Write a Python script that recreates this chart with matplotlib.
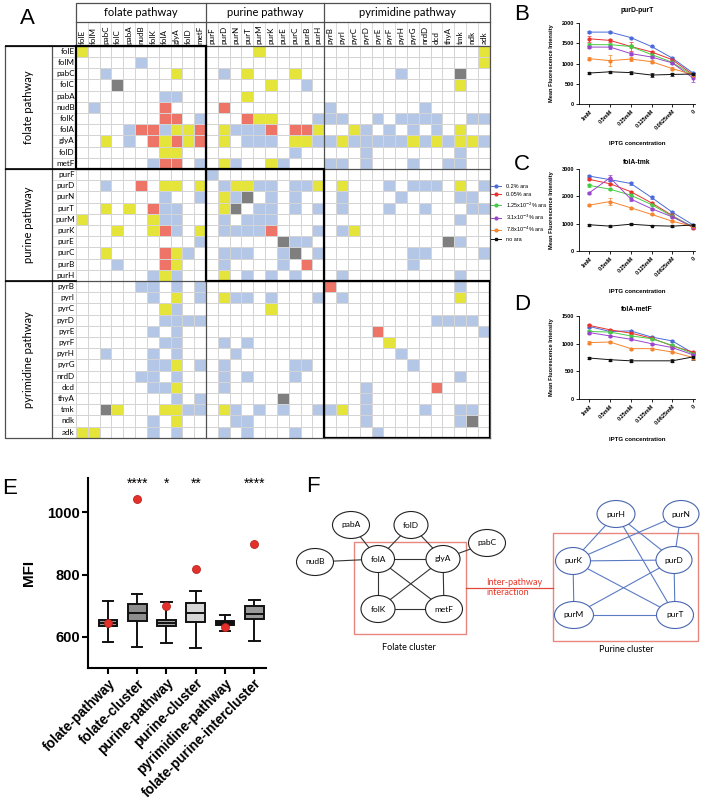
import numpy as np
import matplotlib
matplotlib.use('Agg')
import matplotlib.pyplot as plt
from matplotlib.colors import ListedColormap
from matplotlib.patches import Ellipse, Rectangle
from matplotlib.lines import Line2D

plt.rcParams['font.family'] = ['Liberation Sans', 'DejaVu Sans']

W, H = 705, 808

# ---------------- A: pairwise interaction matrix ----------------
genes = ['folE', 'folM', 'pabC', 'folC', 'pabA', 'nudB', 'folK', 'folA', 'glyA', 'folD', 'metF',
         'purF', 'purD', 'purN', 'purT', 'purM', 'purK', 'purE', 'purC', 'purB', 'purH',
         'pyrB', 'pyrI', 'pyrC', 'pyrD', 'pyrE', 'pyrF', 'pyrH', 'pyrG', 'nrdD', 'dcd', 'thyA',
         'tmk', 'ndk', 'adk']
pathways = ['folate pathway', 'purine pathway', 'pyrimidine pathway']
pathway_sizes = [11, 10, 14]
# . = none, b = blue, y = yellow, r = red, g = grey
matrix_rows = [
    "y.......... ....y..... .............y",
    ".....b..... .......... .............y",
    "..b.....y.. .b.y...y.. ......b....g..",
    "...g....... .....y..b. ...........y..",
    ".......bb.. ...y...... ..............",
    ".b.....r... .r........ b.......b.....",
    ".......rr.b ...ryy...b bb..b.bbbb..bb",
    "....brrbyyr .ybbbr.rry ..yb.b.b.b.y..",
    "..y.b.ryryr .y.bbb.yyb bybbbbbybybyyb",
    ".......yy.. .......b.. ...b.......b..",
    "......brr.b .yb..yb... bb.b...b..bb..",
    "........... b......... ..............",
    "..b..r.yy.y .byybb.bby .y...b.bbb.y.b",
    ".......b..b .ybg.b.b.. .b....b....bb.",
    "..y.y.rbb.. .yg.bb.b.b .b...b..b...bb",
    "y.....ybb.. .b.bbb.... ...........b..",
    "...y..yrb.y .bbbbr...b .by...........",
    "..........b ......gbb. ..........gb..",
    "..y....ryb. .bbb..bg.b .......bb....b",
    "...b...ry.. .b....b.r. .......b......",
    "......byb.. .y.b.b.b.. .b.........b..",
    ".....bb.b.b .......... r..........b..",
    "......b.y.b .ybb.b...b .b.........y..",
    ".......yb.. .....y.... ..............",
    ".......bbbb .......... .........bbbb.",
    "......b.b.. .......... ....r........b",
    ".......bb.. .b.b...... .....y........",
    "..b...b.b.. ..b....... ......b.......",
    "......bby.b .b.....bb. .......b......",
    ".....bb.b.. .b.b...b.. ...........b..",
    "......bby.. .b........ ...b.....r....",
    "........b.b ......g... ...b..........",
    "..gy...yybb .yb.b.b..b by.b....b..bb.",
    "......b.y.. ..bb...... ...b.......bg.",
    "yy....b.b.. .b.b...b.. ....b.........",
]
cell_colors = ['white', '#b4c7e7', '#e4e43a', '#ee7467', '#7f7f7f']

# ---------------- B-D: titration curves ----------------
iptg = ['1mM', '0.5mM', '0.25mM', '0.125mM', '0.0625mM', '0']
ara = ['0.2% ara', '0.05% ara', '1.25x10$^{-2}$% ara', '3.1x10$^{-3}$% ara',
       '7.8x10$^{-4}$% ara', 'no ara']
ara_colors = ['#4a6cd9', '#e8322d', '#45cc45', '#9a45cc', '#f5842c', '#111111']

purD_purT = [[1775, 1775, 1640, 1420, 1135, 765],
             [1610, 1570, 1420, 1285, 1095, 725],
             [1465, 1465, 1420, 1220, 1030, 700],
             [1405, 1405, 1245, 1160, 1015, 645],
             [1120, 1070, 1110, 1045, 875, 725],
             [765, 795, 775, 715, 730, 740]]
purD_purT_err = [[30, 20, 20, 20, 20, 30],
                 [70, 30, 100, 30, 30, 40],
                 [30, 30, 30, 30, 30, 40],
                 [30, 40, 40, 30, 30, 110],
                 [30, 130, 40, 30, 30, 40],
                 [20, 20, 40, 60, 30, 30]]
folA_tmk = [[2740, 2610, 2470, 1960, 1420, 960],
            [2620, 2460, 2170, 1760, 1300, 850],
            [2400, 2260, 2040, 1700, 1270, 900],
            [2130, 2680, 1900, 1550, 1250, 880],
            [1680, 1810, 1580, 1340, 1090, 900],
            [960, 910, 980, 930, 910, 950]]
folA_tmk_err = [[40, 60, 40, 40, 40, 30],
                [40, 40, 40, 40, 30, 30],
                [50, 40, 40, 30, 30, 30],
                [40, 110, 60, 40, 30, 30],
                [40, 140, 30, 30, 30, 30],
                [30, 40, 30, 30, 30, 30]]
folA_metF = [[1310, 1220, 1230, 1120, 1050, 830],
             [1330, 1250, 1190, 1100, 960, 850],
             [1220, 1210, 1140, 1090, 970, 820],
             [1200, 1140, 1080, 1000, 930, 800],
             [1020, 1030, 910, 910, 850, 750],
             [740, 710, 690, np.nan, 690, 760]]
folA_metF_err = [[20, 20, 20, 20, 20, 20],
                 [20, 20, 20, 20, 20, 20],
                 [20, 20, 20, 20, 20, 20],
                 [20, 20, 20, 20, 20, 20],
                 [20, 20, 20, 20, 20, 30],
                 [20, 20, 30, 0, 30, 50]]

# ---------------- E: MFI box plot ----------------
groups_E = ['folate-pathway', 'folate-cluster', 'purine-pathway', 'purine-cluster',
            'pyrimidine-pathway', 'folate-purine-intercluster']
whislo = [584, 567, 581, 563, 620, 586]
q1 = [634, 650, 634, 647, 639, 658]
med = [645, 677, 645, 677, 645, 674]
q3 = [655, 707, 655, 709, 650, 698]
whishi = [714, 738, 712, 748, 669, 717]
highlight = [643, 1042, 699, 818, 631, 898]
stars = ['', '****', '*', '**', '', '****']
box_fill = ['#9a9a9a', '#8e8e8e', '#a5a5a5', '#d6d6d6', '#2a2a2a', '#9a9a9a']

# ---------------- F: cluster networks ----------------
fol_nodes = ['pabA', 'folD', 'pabC', 'nudB', 'folA', 'glyA', 'folK', 'metF']
fol_x = [351, 411, 487, 315, 378, 443, 378, 444]
fol_y = [525, 525, 543, 562, 559, 559, 609, 609]
fol_w = [37, 34, 37, 37, 33, 34, 34, 37]
fol_edges = [('pabA', 'folA'), ('folD', 'folA'), ('folD', 'glyA'), ('pabC', 'glyA'),
             ('nudB', 'folA'), ('folA', 'glyA'), ('folA', 'folK'), ('folA', 'metF'),
             ('glyA', 'folK'), ('glyA', 'metF'), ('folK', 'metF')]
pur_nodes = ['purH', 'purN', 'purK', 'purD', 'purM', 'purT']
pur_x = [616, 681, 573, 674, 574, 675]
pur_y = [514, 514, 561, 560, 615, 615]
pur_w = [38, 36, 35, 36, 39, 37]
pur_edges = [('purH', 'purK'), ('purH', 'purD'), ('purH', 'purT'), ('purN', 'purK'),
             ('purN', 'purD'), ('purK', 'purD'), ('purK', 'purM'), ('purK', 'purT'),
             ('purD', 'purM'), ('purD', 'purT'), ('purM', 'purT')]


fig = plt.figure(figsize=(W / 100, H / 100), dpi=100)


def px_axes(x0, y0, x1, y1):
    return fig.add_axes([x0 / W, 1 - y1 / H, (x1 - x0) / W, (y1 - y0) / H])


def px_text(x, y, s, **kw):
    fig.text(x / W, 1 - y / H, s, **kw)


# ---- A ----
axA = px_axes(5.1, 3.0, 489.7, 437.8)
n = len(genes)
codes = np.array([['.byrg'.index(ch) for ch in row.replace(' ', '')] for row in matrix_rows])
axA.pcolormesh(np.arange(n + 1), np.arange(n + 1), codes, cmap=ListedColormap(cell_colors),
               vmin=-0.5, vmax=4.5, edgecolors='#d4d4d4', linewidth=0.6)
axA.set_xlim(-6, n)
axA.set_ylim(n, -3.82)
axA.axis('off')
grid_c = '#d4d4d4'
for k in range(n + 1):
    axA.plot([k, k], [-2.13, 0], color=grid_c, lw=0.6)
    axA.plot([-2.03, 0], [k, k], color=grid_c, lw=0.6)
for k, g in enumerate(genes):
    axA.text(k + 0.5, -0.12, g, rotation=90, ha='center', va='bottom', fontsize=5.8, family='Lato')
    axA.text(-0.12, k + 0.5, g, ha='right', va='center', fontsize=5.8, family='Lato')

bounds = np.cumsum([0] + pathway_sizes)
dark = '#505050'
kw = dict(color=dark, lw=0.9, clip_on=False)
for b in bounds[1:-1]:
    axA.plot([b, b], [-3.82, n], **kw)
    axA.plot([-6, n], [b, b], **kw)
axA.plot([-6, n], [0, 0], **kw)
axA.plot([-6, -6, n], [0, n, n], **kw)
axA.plot([0, 0, n, n], [0, -3.82, -3.82, n], **kw)
axA.plot([0, n], [-2.13, -2.13], **kw)
axA.plot([-2.03, -2.03], [0, n], **kw)
for s, e, name in zip(bounds[:-1], bounds[1:], pathways):
    axA.add_patch(Rectangle((s, s), e - s, e - s, fill=False, ec='black', lw=1.6, zorder=5))
    axA.plot([-6, 0], [s, s], color='black', lw=1.2)
    axA.text((s + e) / 2, -2.98, name, ha='center', va='center', fontsize=8, family='Lato')
    axA.text(-4.0, (s + e) / 2, name, rotation=90, ha='center', va='center', fontsize=8, family='Lato')

# ---- B, C, D ----
def curve_panel(box, values, errors, ymax, ystep, title, title_y):
    ax = px_axes(*box)
    x = np.arange(len(iptg))
    for vals, errs, col in zip(values, errors, ara_colors):
        vals = np.asarray(vals, float)
        errs = np.asarray(errs, float)
        ok = ~np.isnan(vals)
        mk = 's' if col == '#111111' else 'o'
        ax.errorbar(x[ok], vals[ok], yerr=errs[ok], color=col, marker=mk, ms=2.0, lw=0.7,
                    elinewidth=0.5, capsize=1.2, capthick=0.5)
    ax.set_xlim(-0.5, 5.1)
    ax.set_ylim(0, ymax)
    ax.set_yticks(np.arange(0, ymax + 1, ystep))
    ax.set_xticks(x)
    ax.set_xticklabels(iptg, rotation=45, ha='right', rotation_mode='anchor')
    for sp in ['top', 'right']:
        ax.spines[sp].set_visible(False)
    for sp in ['left', 'bottom']:
        ax.spines[sp].set_linewidth(0.6)
    ax.tick_params(labelsize=4, width=0.6, length=2, pad=1.5)
    for lab in ax.get_xticklabels() + ax.get_yticklabels():
        lab.set_fontweight('bold')
    ax.set_xlabel('IPTG concentration', fontsize=4.4, fontweight='bold')
    ax.xaxis.set_label_coords(0.5, -0.46)
    ax.set_ylabel('Mean Fluorescence Intensity', fontsize=4.1, fontweight='bold')
    ax.yaxis.set_label_coords(-0.215, 0.5)
    ax.text(0.5, title_y, title, transform=ax.transAxes, ha='center', va='center',
            fontsize=4.9, fontweight='bold')
    return ax


curve_panel((579, 23, 695, 104), purD_purT, purD_purT_err, 2000, 500, 'purD-purT', 1.16)
curve_panel((579, 169, 695, 251), folA_tmk, folA_tmk_err, 3000, 1000, 'folA-tmk', 1.08)
curve_panel((579, 316, 695, 399), folA_metF, folA_metF_err, 1500, 500, 'folA-metF', 1.08)

handles = [Line2D([], [], color=c, marker='s' if c == '#111111' else 'o', ms=2.0, lw=0.7)
           for c in ara_colors]
fig.legend(handles, ara, loc='upper left', bbox_to_anchor=(490 / W, 1 - 183 / H), frameon=False,
           fontsize=4, handlelength=1.8, handletextpad=0.8, labelspacing=0.55,
           borderaxespad=0, borderpad=0.2)

# ---- E ----
axE = px_axes(88, 478, 266, 668)
stats = [dict(label=g, whislo=a, q1=b, med=c, q3=d, whishi=e)
         for g, a, b, c, d, e in zip(groups_E, whislo, q1, med, q3, whishi)]
pos = np.arange(len(groups_E))
bp = axE.bxp(stats, positions=pos, widths=0.64, capwidths=0.36, patch_artist=True,
             showfliers=False,
             boxprops=dict(lw=1.4, edgecolor='#111111'),
             medianprops=dict(color='#111111', lw=1.4),
             whiskerprops=dict(color='#111111', lw=1.4),
             capprops=dict(color='#111111', lw=1.4))
for patch, c in zip(bp['boxes'], box_fill):
    patch.set_facecolor(c)
axE.scatter(pos, highlight, s=34, color='#e3302b', edgecolor='#b01e1a', lw=0.5, zorder=5)
for p, s in zip(pos, stars):
    if s:
        axE.text(p, 1093, s, ha='center', va='center', fontsize=10, clip_on=False)
axE.set_xlim(-0.68, 5.4)
axE.set_ylim(500, 1110)
axE.set_yticks([600, 800, 1000])
axE.set_xticks(pos)
axE.set_xticklabels(groups_E, rotation=45, ha='right', rotation_mode='anchor')
for sp in ['top', 'right']:
    axE.spines[sp].set_visible(False)
for sp in ['left', 'bottom']:
    axE.spines[sp].set_linewidth(1.5)
axE.tick_params(width=1.5, length=4, pad=2)
axE.tick_params(axis='y', labelsize=10.5)
axE.tick_params(axis='x', labelsize=9.8)
for lab in axE.get_xticklabels() + axE.get_yticklabels():
    lab.set_fontweight('bold')
axE.set_ylabel('MFI', fontsize=11, fontweight='bold', labelpad=8)

# ---- F ----
axF = px_axes(270, 480, 705, 808)
axF.set_xlim(270, 705)
axF.set_ylim(808, 480)
axF.axis('off')


def draw_cluster(names, xs, ys, ws, edges, node_ec, edge_c):
    loc = {nm: (x, y) for nm, x, y in zip(names, xs, ys)}
    for a, b in edges:
        axF.plot([loc[a][0], loc[b][0]], [loc[a][1], loc[b][1]], color=edge_c, lw=0.8, zorder=1)
    for nm, x, y, w in zip(names, xs, ys, ws):
        axF.add_patch(Ellipse((x, y), w, 27, fc='white', ec=node_ec, lw=0.8, zorder=2))
        axF.text(x, y, nm, ha='center', va='center', fontsize=6, family='Lato', zorder=3)


axF.add_patch(Rectangle((354, 542), 112, 92, fill=False, ec='#e8877d', lw=1.0, zorder=0))
axF.add_patch(Rectangle((553, 533), 145, 108, fill=False, ec='#e8877d', lw=1.0, zorder=0))
draw_cluster(fol_nodes, fol_x, fol_y, fol_w, fol_edges, '#222222', '#333333')
draw_cluster(pur_nodes, pur_x, pur_y, pur_w, pur_edges, '#4a66b0', '#5a7bc4')
axF.plot([466, 553], [588, 588], color='#e0483c', lw=0.9)
axF.text(486, 587.5, 'Inter-pathway\ninteraction', color='#e8382a', fontsize=6.5, family='Lato',
         ha='left', va='center', linespacing=1.25)
axF.text(409, 648, 'Folate cluster', ha='center', va='center', fontsize=6.5, family='Lato')
axF.text(626, 649, 'Purine cluster', ha='center', va='center', fontsize=6.5, family='Lato')

# panel letters
for letter, x, y in [('A', 27, 19), ('B', 522, 14), ('C', 522, 164), ('D', 522, 304),
                     ('E', 10, 488), ('F', 313, 486)]:
    px_text(x, y, letter, fontsize=16, ha='center', va='center')

fig.savefig('out.png', dpi=100)
